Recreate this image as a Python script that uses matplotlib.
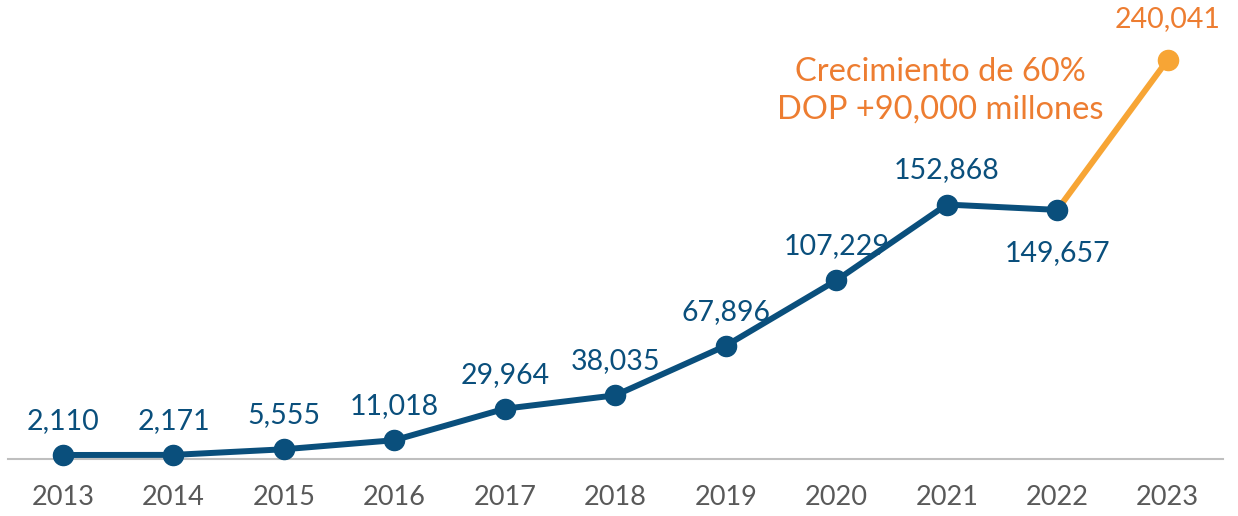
import matplotlib
matplotlib.use("Agg")
import matplotlib.pyplot as plt

years = ["2013", "2014", "2015", "2016", "2017", "2018", "2019", "2020", "2021", "2022", "2023"]
values = [2110, 2171, 5555, 11018, 29964, 38035, 67896, 107229, 152868, 149657, 240041]
labels = ["2,110", "2,171", "5,555", "11,018", "29,964", "38,035", "67,896", "107,229", "152,868", "149,657", "240,041"]
annotation = "Crecimiento de 60%\nDOP +90,000 millones"

BLUE = "#0A4F7C"
ORANGE_LINE = "#F7A535"
ORANGE_TEXT = "#ED7D31"
GRAY = "#595959"

plt.rcParams['font.family'] = ['Lato', 'DejaVu Sans']

fig = plt.figure(figsize=(12.38, 5.16), dpi=100)
ax = fig.add_axes([7.75 / 1238, 1 - 458.5 / 516, (1223 - 7.75) / 1238, 458.5 / 516])
ax.set_xlim(-0.5, 10.5)
ax.set_ylim(0, 276000)

x = list(range(len(years)))
# orange segment 2022-2023
ax.plot(x[9:], values[9:], color=ORANGE_LINE, lw=4.3, zorder=2, solid_capstyle='round', clip_on=False)
ax.plot(x[10:], values[10:], 'o', color=ORANGE_LINE, ms=14.5, zorder=3, clip_on=False)
ax.plot(x[:10], values[:10], '-o', color=BLUE, lw=4.3, ms=14.5, zorder=4, clip_on=False)

for i, (v, lab) in enumerate(zip(values, labels)):
    if i == 9:
        ax.annotate(lab, (i, v), xytext=(0, -31), textcoords='offset points',
                    ha='center', va='center', fontsize=20.5, color=BLUE)
    elif i == 10:
        ax.annotate(lab, (i, v), xytext=(0, 29.5), textcoords='offset points',
                    ha='center', va='center', fontsize=20.5, color=ORANGE_TEXT)
    else:
        ax.annotate(lab, (i, v), xytext=(0, 24.5), textcoords='offset points',
                    ha='center', va='center', fontsize=20.5, color=BLUE)

ax.text(940 / 1238, 1 - 91 / 516, annotation, transform=fig.transFigure,
        ha='center', va='center', fontsize=23.5, color=ORANGE_TEXT, linespacing=1.3)

for s in ['top', 'right', 'left']:
    ax.spines[s].set_visible(False)
ax.spines['bottom'].set_color('#BFBFBF')
ax.spines['bottom'].set_linewidth(1.5)
ax.spines['bottom'].set_zorder(1)
ax.set_yticks([])
ax.set_xticks(x)
ax.set_xticklabels(years, fontsize=19.5, color=GRAY)
ax.tick_params(axis='x', length=0, pad=19)

fig.savefig("out.png", dpi=100)
